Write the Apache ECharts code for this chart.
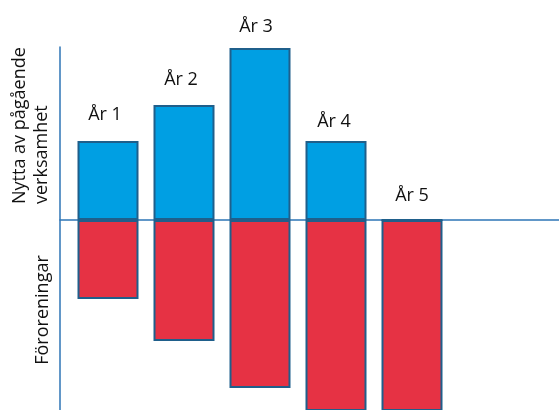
<!DOCTYPE html>
<html>
<head>
<meta charset="utf-8">
<script src="https://cdn.jsdelivr.net/npm/echarts@6/dist/echarts.min.js"></script>
<style>
  html, body { margin: 0; padding: 0; background: #fff; }
  #chart { width: 559px; height: 410px; }
</style>
</head>
<body>
<div id="chart"></div>
<script>
// Yearly benefit (above the line) versus pollution (below the line)
const years = ['År 1', 'År 2', 'År 3', 'År 4', 'År 5'];
const benefit = [7.9, 11.5, 17.2, 7.9, 0];
const pollution = [-7.9, -12.1, -16.8, -21, -21];

// gap (px) between each year label and its bar, and a small sideways nudge
const labelGap = [17, 16, 12, 10, 14];
const labelNudge = [-3, -3, -4, -2, 0];

const axisMin = -19;
const axisMax = 17.3;

const FONT = 'Open Sans';
const lineColor = '#2E75B6';
const edgeColor = '#1F5F8B';

const chart = echarts.init(document.getElementById('chart'), null, { renderer: 'canvas' });

chart.setOption({
  animation: false,
  backgroundColor: '#ffffff',
  textStyle: { fontFamily: FONT },
  grid: [
    // bars
    { left: 70, width: 380, top: 47, bottom: 0 },
    // frame: vertical axis and the zero line
    { left: 60, right: 0, top: 47, bottom: 0 }
  ],
  xAxis: [
    {
      type: 'category', gridIndex: 0, data: years,
      show: false
    },
    {
      type: 'value', gridIndex: 1, min: 0, max: 1,
      axisLine: { show: true, onZero: true, lineStyle: { color: lineColor, width: 1.5 } },
      axisTick: { show: false }, axisLabel: { show: false }, splitLine: { show: false }
    }
  ],
  yAxis: [
    {
      type: 'value', gridIndex: 0, min: axisMin, max: axisMax, show: false
    },
    {
      type: 'value', gridIndex: 1, min: axisMin, max: axisMax,
      axisLine: { show: true, onZero: false, lineStyle: { color: lineColor, width: 1.5 } },
      axisTick: { show: false }, axisLabel: { show: false }, splitLine: { show: false }
    }
  ],
  series: [
    {
      name: 'Nytta', type: 'bar', xAxisIndex: 0, yAxisIndex: 0,
      stack: 'year', barWidth: 61,
      data: benefit.map((v, i) => ({
        value: v,
        label: { distance: labelGap[i], offset: [labelNudge[i], 0] }
      })),
      itemStyle: { color: '#009FE3', borderColor: edgeColor, borderWidth: 2 },
      label: {
        show: true, position: 'top',
        formatter: p => years[p.dataIndex],
        color: '#111', fontSize: 18, fontFamily: FONT
      }
    },
    {
      name: 'Föroreningar', type: 'bar', xAxisIndex: 0, yAxisIndex: 0,
      stack: 'year', barWidth: 61, data: pollution,
      itemStyle: { color: '#E63244', borderColor: edgeColor, borderWidth: 2 }
    }
  ],
  graphic: [
    {
      type: 'text', x: 31, y: 204, rotation: Math.PI / 2,
      style: {
        text: 'Nytta av pågående\nverksamhet',
        fontFamily: FONT, fontSize: 18, lineHeight: 22,
        fill: '#111', align: 'left', verticalAlign: 'middle'
      }
    },
    {
      type: 'text', x: 43, y: 310, rotation: Math.PI / 2,
      style: {
        text: 'Föroreningar',
        fontFamily: FONT, fontSize: 18,
        fill: '#111', align: 'center', verticalAlign: 'middle'
      }
    }
  ]
});
</script>
</body>
</html>
